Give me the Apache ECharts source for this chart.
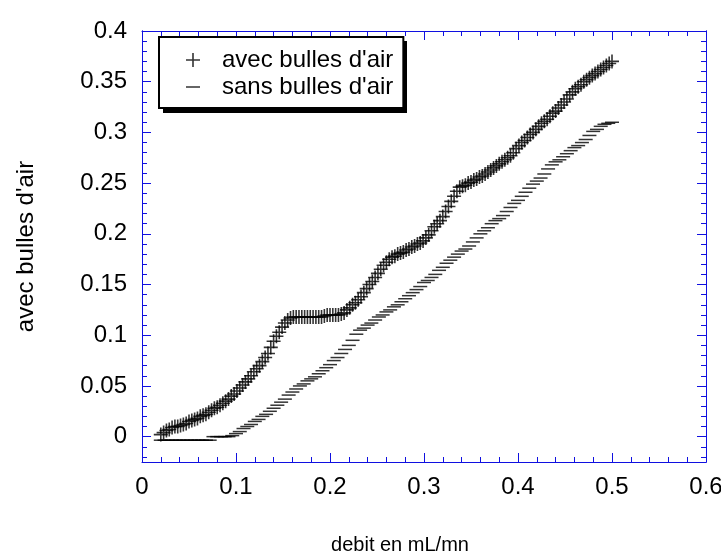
<!DOCTYPE html>
<html>
<head>
<meta charset="utf-8">
<script src="https://cdn.jsdelivr.net/npm/echarts@6/dist/echarts.min.js"></script>
<style>
  html, body { margin: 0; padding: 0; background: #fff; }
  #chart { width: 721px; height: 554px; }
</style>
</head>
<body>
<div id="chart"></div>
<script>
// tick labels
const xTicks = [0, 0.1, 0.2, 0.3, 0.4, 0.5, 0.6]
const yTicks = [0, 0.05, 0.1, 0.15, 0.2, 0.25, 0.3, 0.35, 0.4]
const yMinorTicks = [-0.02, -0.01, 0, 0.01, 0.02, 0.03, 0.04, 0.05, 0.06, 0.07, 0.08, 0.09, 0.1,
  0.11, 0.12, 0.13, 0.14, 0.15, 0.16, 0.17, 0.18, 0.19, 0.2, 0.21, 0.22, 0.23, 0.24, 0.25,
  0.26, 0.27, 0.28, 0.29, 0.3, 0.31, 0.32, 0.33, 0.34, 0.35, 0.36, 0.37, 0.38, 0.39]

const seriesNames = ['avec bulles d\'air', 'sans bulles d\'air']

// avec bulles d'air (+) : [debit, valeur]
const avecPoints = [
  [0.020, 0.002], [0.023, 0.004], [0.026, 0.006], [0.029, 0.007], [0.032, 0.009],
  [0.035, 0.010], [0.038, 0.010], [0.041, 0.011], [0.044, 0.012], [0.047, 0.013],
  [0.050, 0.015], [0.053, 0.016], [0.056, 0.017], [0.059, 0.018], [0.062, 0.020],
  [0.065, 0.021], [0.068, 0.022], [0.071, 0.024], [0.074, 0.026], [0.077, 0.028],
  [0.080, 0.029], [0.083, 0.031], [0.086, 0.033], [0.089, 0.035], [0.092, 0.037],
  [0.095, 0.040], [0.098, 0.042], [0.101, 0.045], [0.104, 0.048], [0.107, 0.051],
  [0.110, 0.054], [0.113, 0.057], [0.116, 0.060], [0.119, 0.064], [0.122, 0.067],
  [0.125, 0.070], [0.128, 0.074], [0.131, 0.078], [0.134, 0.082], [0.137, 0.088],
  [0.140, 0.094], [0.143, 0.099], [0.146, 0.103], [0.149, 0.108], [0.152, 0.112],
  [0.155, 0.115], [0.158, 0.117], [0.161, 0.118], [0.164, 0.118], [0.167, 0.118],
  [0.170, 0.118], [0.173, 0.118], [0.176, 0.118], [0.179, 0.118], [0.182, 0.118],
  [0.185, 0.118], [0.188, 0.118], [0.191, 0.118], [0.194, 0.119], [0.197, 0.120],
  [0.200, 0.120], [0.203, 0.120], [0.206, 0.120], [0.209, 0.120], [0.212, 0.121],
  [0.215, 0.122], [0.218, 0.125], [0.221, 0.127], [0.224, 0.130], [0.227, 0.132],
  [0.230, 0.135], [0.233, 0.138], [0.236, 0.142], [0.239, 0.146], [0.242, 0.150],
  [0.245, 0.153], [0.248, 0.157], [0.251, 0.161], [0.254, 0.165], [0.257, 0.169],
  [0.260, 0.172], [0.263, 0.175], [0.266, 0.177], [0.269, 0.178], [0.272, 0.180],
  [0.275, 0.181], [0.278, 0.182], [0.281, 0.184], [0.284, 0.185], [0.287, 0.187],
  [0.290, 0.188], [0.293, 0.190], [0.296, 0.191], [0.299, 0.193], [0.302, 0.196],
  [0.305, 0.199], [0.308, 0.203], [0.311, 0.207], [0.314, 0.210], [0.317, 0.213],
  [0.320, 0.217], [0.323, 0.222], [0.326, 0.227], [0.329, 0.232], [0.332, 0.237],
  [0.335, 0.242], [0.338, 0.246], [0.341, 0.247], [0.344, 0.248], [0.347, 0.250],
  [0.350, 0.251], [0.353, 0.253], [0.356, 0.254], [0.359, 0.256], [0.362, 0.257],
  [0.365, 0.259], [0.368, 0.261], [0.371, 0.263], [0.374, 0.265], [0.377, 0.267],
  [0.380, 0.269], [0.383, 0.271], [0.386, 0.273], [0.389, 0.275], [0.392, 0.277],
  [0.395, 0.280], [0.398, 0.284], [0.401, 0.287], [0.404, 0.290], [0.407, 0.292],
  [0.410, 0.295], [0.413, 0.298], [0.416, 0.300], [0.419, 0.303], [0.422, 0.306],
  [0.425, 0.309], [0.428, 0.311], [0.431, 0.313], [0.434, 0.316], [0.437, 0.319],
  [0.440, 0.321], [0.443, 0.324], [0.446, 0.327], [0.449, 0.330], [0.452, 0.333],
  [0.455, 0.337], [0.458, 0.340], [0.461, 0.343], [0.464, 0.345], [0.467, 0.347],
  [0.470, 0.350], [0.473, 0.352], [0.476, 0.354], [0.479, 0.356], [0.482, 0.358],
  [0.485, 0.360], [0.488, 0.362], [0.491, 0.364], [0.494, 0.366], [0.497, 0.368],
  [0.500, 0.370]
]

// sans bulles d'air (-) : [debit, valeur]
const sansPoints = [
  [0.020, -0.0035], [0.024, -0.0035], [0.028, -0.0035], [0.032, -0.0035], [0.036, -0.0035],
  [0.040, -0.0035], [0.044, -0.0035], [0.048, -0.0035], [0.052, -0.0035], [0.056, -0.0035],
  [0.060, -0.0035], [0.064, -0.0035], [0.068, -0.0035], [0.072, -0.0035], [0.076, 0.000],
  [0.080, 0.000], [0.084, 0.000], [0.088, 0.000], [0.092, 0.000], [0.096, 0.001],
  [0.100, 0.003], [0.104, 0.005], [0.108, 0.008], [0.112, 0.010], [0.116, 0.012],
  [0.120, 0.015], [0.124, 0.017], [0.128, 0.020], [0.132, 0.022], [0.136, 0.025],
  [0.140, 0.028], [0.144, 0.031], [0.148, 0.034], [0.152, 0.037], [0.156, 0.041],
  [0.160, 0.044], [0.164, 0.047], [0.168, 0.050], [0.172, 0.052], [0.176, 0.055],
  [0.180, 0.057], [0.184, 0.059], [0.188, 0.062], [0.192, 0.065], [0.196, 0.068],
  [0.200, 0.071], [0.204, 0.075], [0.208, 0.078], [0.212, 0.082], [0.216, 0.086],
  [0.220, 0.090], [0.224, 0.095], [0.228, 0.101], [0.232, 0.105], [0.236, 0.107],
  [0.240, 0.110], [0.244, 0.112], [0.248, 0.115], [0.252, 0.118], [0.256, 0.120],
  [0.260, 0.123], [0.264, 0.125], [0.268, 0.128], [0.272, 0.130], [0.276, 0.133],
  [0.280, 0.136], [0.284, 0.139], [0.288, 0.142], [0.292, 0.145], [0.296, 0.148],
  [0.300, 0.152], [0.304, 0.154], [0.308, 0.157], [0.312, 0.160], [0.316, 0.164],
  [0.320, 0.167], [0.324, 0.171], [0.328, 0.174], [0.332, 0.177], [0.336, 0.180],
  [0.340, 0.183], [0.344, 0.185], [0.348, 0.188], [0.352, 0.192], [0.356, 0.196],
  [0.360, 0.200], [0.364, 0.203], [0.368, 0.206], [0.372, 0.210], [0.376, 0.213],
  [0.380, 0.215], [0.384, 0.218], [0.388, 0.222], [0.392, 0.226], [0.396, 0.230],
  [0.400, 0.233], [0.404, 0.237], [0.408, 0.241], [0.412, 0.245], [0.416, 0.249],
  [0.420, 0.252], [0.424, 0.255], [0.428, 0.259], [0.432, 0.264], [0.436, 0.268],
  [0.440, 0.271], [0.444, 0.273], [0.448, 0.276], [0.452, 0.279], [0.456, 0.282],
  [0.460, 0.285], [0.464, 0.287], [0.468, 0.290], [0.472, 0.293], [0.476, 0.297],
  [0.480, 0.301], [0.484, 0.303], [0.488, 0.306], [0.492, 0.308], [0.496, 0.309],
  [0.500, 0.310]
]

const font = '"Liberation Sans", Arial, Helvetica, sans-serif'
const axisBlue = '#1010e0'
const plusIcon = 'path://M0,6.2h14v1.6h-14z M6.2,0h1.6v14h-1.6z'
const dashIcon = 'path://M0,0h14v1.5h-14z'

function xAxisCfg(pos, withLabels) {
  return {
    type: 'value',
    position: pos,
    min: 0,
    max: 0.6,
    interval: 0.1,
    name: withLabels ? 'debit en mL/mn' : '',
    nameLocation: 'middle',
    nameGap: 73,
    nameTextStyle: { color: '#000', fontSize: 20, fontFamily: font, padding: [0, 48, 0, 0] },
    axisLine: { show: true, onZero: false, lineStyle: { color: axisBlue, width: 1 } },
    axisTick: { show: true, inside: true, length: 9, lineStyle: { color: axisBlue } },
    minorTick: { show: true, splitNumber: 5, length: 5, lineStyle: { color: axisBlue } },
    axisLabel: {
      show: withLabels,
      margin: 13,
      color: '#000',
      fontSize: 24,
      fontFamily: font,
      customValues: xTicks
    },
    splitLine: { show: false },
    minorSplitLine: { show: false }
  }
}

function yAxisCfg(pos, major, withLabels) {
  return {
    type: 'value',
    position: pos,
    min: -0.025,
    max: 0.4,
    name: withLabels ? 'avec bulles d\'air' : '',
    nameLocation: 'middle',
    nameGap: 104,
    nameTextStyle: { color: '#000', fontSize: 24, fontFamily: font },
    axisLine: { show: true, onZero: false, lineStyle: { color: axisBlue, width: 1 } },
    axisTick: {
      show: true,
      inside: true,
      length: major ? 9 : 5,
      customValues: major ? yTicks : yMinorTicks,
      lineStyle: { color: axisBlue }
    },
    axisLabel: {
      show: withLabels,
      margin: 15,
      color: '#000',
      fontSize: 24,
      fontFamily: font,
      customValues: yTicks
    },
    splitLine: { show: false }
  }
}

const option = {
  backgroundColor: '#fff',
  animation: false,
  grid: { left: 142, right: 15, top: 31, bottom: 92, outerBoundsMode: 'none' },
  // ombre noire du cadre de légende
  graphic: [
    {
      type: 'rect',
      z: 0,
      shape: { x: 163, y: 41, width: 244, height: 72 },
      style: { fill: '#000' }
    }
  ],
  legend: {
    orient: 'vertical',
    left: 159,
    top: 37,
    z: 10,
    padding: [11, 10, 9, 27],
    itemWidth: 14,
    itemHeight: 14,
    itemGap: 3,
    backgroundColor: '#fff',
    borderColor: '#000',
    borderWidth: 2,
    borderRadius: 0,
    textStyle: { color: '#000', fontSize: 24, fontFamily: font, padding: [0, 0, 0, 17] },
    data: [
      { name: seriesNames[0], icon: plusIcon },
      { name: seriesNames[1], icon: dashIcon }
    ]
  },
  xAxis: [xAxisCfg('bottom', true), xAxisCfg('top', false)],
  yAxis: [
    yAxisCfg('left', true, true),
    yAxisCfg('left', false, false),
    yAxisCfg('right', true, false),
    yAxisCfg('right', false, false)
  ],
  series: [
    {
      name: seriesNames[0],
      type: 'scatter',
      xAxisIndex: 0,
      yAxisIndex: 0,
      symbol: plusIcon,
      symbolSize: [14, 14],
      itemStyle: { color: '#000' },
      data: avecPoints
    },
    {
      name: seriesNames[1],
      type: 'scatter',
      xAxisIndex: 0,
      yAxisIndex: 0,
      symbol: dashIcon,
      symbolSize: [14, 1.5],
      itemStyle: { color: '#000' },
      data: sansPoints
    }
  ]
}

const myChart = echarts.init(document.getElementById('chart'))
myChart.setOption(option)
window.addEventListener('resize', () => {
  myChart.resize()
})
</script>
</body>
</html>
